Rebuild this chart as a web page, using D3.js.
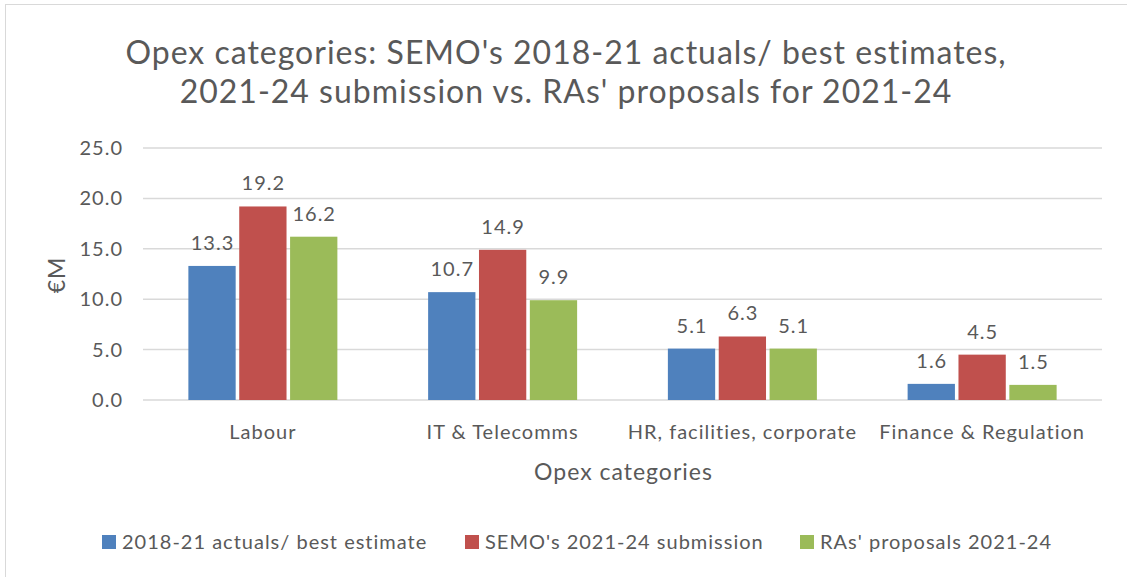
<!DOCTYPE html>
<html>
<head>
<meta charset="utf-8">
<script src="https://cdn.jsdelivr.net/npm/d3@7"></script>
<style>
    body { margin: 0; background: #fff; }
    svg text { font-family: Lato, "Open Sans", sans-serif; fill: #595959; letter-spacing: 1px; }
</style>
</head>
<body>
<svg id="chart" width="1127" height="577"></svg>
<script>
var categories = ['Labour', 'IT & Telecomms', 'HR, facilities, corporate', 'Finance & Regulation'];
var seriesNames = ['2018-21 actuals/ best estimate', "SEMO's 2021-24 submission", "RAs' proposals 2021-24"];
var actuals = [13.3, 10.7, 5.1, 1.6];
var submission = [19.2, 14.9, 6.3, 4.5];
var proposals = [16.2, 9.9, 5.1, 1.5];
var yTicks = [0, 5, 10, 15, 20, 25];
var colors = ['#4F81BD', '#C0504D', '#9BBB59'];

var series = [actuals, submission, proposals];

var svg = d3.select('#chart');
var plotLeft = 143, plotRight = 1102, plotTop = 148, plotBottom = 400;
var groupW = 149;

// chart border
svg.append('rect')
    .attr('x', 5.5).attr('y', 4.5)
    .attr('width', 1130).attr('height', 600)
    .attr('fill', 'none')
    .attr('stroke', '#d9d9d9');

// title
var title = svg.append('text')
    .attr('text-anchor', 'middle')
    .attr('font-size', 32);
title.append('tspan').attr('x', 566).attr('y', 64)
    .text("Opex categories: SEMO's 2018-21 actuals/ best estimates,");
title.append('tspan').attr('x', 566).attr('y', 103)
    .text("2021-24 submission vs. RAs' proposals for 2021-24");

var x = d3.scaleBand().domain(categories).range([plotLeft, plotRight]);
var xs = d3.scaleBand().domain(d3.range(series.length))
    .range([0, groupW]).paddingInner(0.07);
var y = d3.scaleLinear().domain([0, 25]).range([plotBottom, plotTop]);

// grid
svg.append('g')
    .selectAll('line')
    .data(yTicks)
    .enter()
    .append('line')
    .attr('x1', plotLeft).attr('x2', plotRight)
    .attr('y1', function (d) { return y(d); })
    .attr('y2', function (d) { return y(d); })
    .attr('stroke', '#d9d9d9')
    .attr('stroke-width', 1.5);

// y axis labels
var yAxis = svg.append('g')
    .attr('transform', 'translate(' + (plotLeft - 20) + ',0)')
    .call(d3.axisLeft(y).tickValues(yTicks).tickSize(0).tickPadding(0)
          .tickFormat(d3.format('.1f')));
yAxis.select('.domain').remove();
yAxis.selectAll('text')
    .attr('font-size', 20)
    .attr('font-family', 'Lato')
    .attr('fill', '#595959');

// bars
var groups = svg.append('g')
    .selectAll('g')
    .data(series)
    .enter()
    .append('g')
    .attr('fill', function (d, i) { return colors[i]; });

var offset = (x.bandwidth() - groupW) / 2;

groups.each(function (vals, si) {
    var g = d3.select(this);
    g.selectAll('rect')
        .data(vals)
        .enter()
        .append('rect')
        .attr('x', function (d, i) { return x(categories[i]) + offset + xs(si); })
        .attr('width', xs.bandwidth())
        .attr('y', function (d) { return y(d); })
        .attr('height', function (d) { return plotBottom - y(d); });

    g.selectAll('text')
        .data(vals)
        .enter()
        .append('text')
        .attr('x', function (d, i) { return x(categories[i]) + offset + xs(si) + xs.bandwidth() / 2 + 0.5; })
        .attr('y', function (d) { return y(d) - 16; })
        .attr('text-anchor', 'middle')
        .attr('font-size', 20)
        .text(function (d) { return d3.format('.1f')(d); });
});

// x axis labels
var xAxis = svg.append('g')
    .attr('transform', 'translate(0,' + plotBottom + ')')
    .call(d3.axisBottom(x).tickSize(0).tickPadding(25));
xAxis.select('.domain').remove();
xAxis.selectAll('text')
    .attr('font-size', 20)
    .attr('font-family', 'Lato')
    .attr('fill', '#595959');

// axis titles
svg.append('text')
    .attr('x', (plotLeft + plotRight) / 2 + 1)
    .attr('y', 480)
    .attr('text-anchor', 'middle')
    .attr('font-size', 23)
    .text('Opex categories');

svg.append('text')
    .attr('transform', 'translate(65,275) rotate(-90)')
    .attr('text-anchor', 'middle')
    .attr('font-size', 23)
    .text('€M');

// legend
var legendX = [102, 465, 800];
var legend = svg.append('g')
    .selectAll('g')
    .data(seriesNames)
    .enter()
    .append('g')
    .attr('transform', function (d, i) { return 'translate(' + legendX[i] + ',535)'; });
legend.append('rect')
    .attr('width', 14).attr('height', 14)
    .attr('fill', function (d, i) { return colors[i]; });
legend.append('text')
    .attr('x', 20).attr('y', 14)
    .attr('font-size', 20)
    .text(function (d) { return d; });
</script>
</body>
</html>
